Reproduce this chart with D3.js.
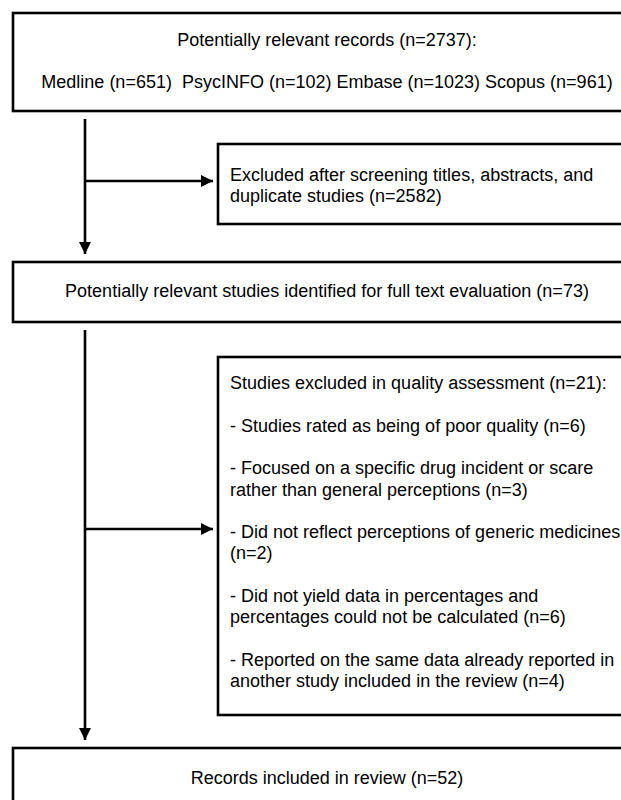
<!DOCTYPE html>
<html>
<head>
<meta charset="utf-8">
<script src="https://cdn.jsdelivr.net/npm/d3@7"></script>
<style>
  body { margin: 0; background: #fff; }
  svg text { font-family: "Liberation Sans", Arial, Helvetica, sans-serif; font-size: 18px; fill: #000; white-space: pre; }
</style>
</head>
<body>
<div id="chart"></div>
<script>
// flow steps (main column), one array of lines per box
var stepLines = [
    ["Potentially relevant records (n=2737):",
     "Medline (n=651)  PsycINFO (n=102) Embase (n=1023) Scopus (n=961)"],
    ["Potentially relevant studies identified for full text evaluation (n=73)"],
    ["Records included in review (n=52)"]
];

// exclusion boxes, "" = blank line
var exclusionLines = [
    ["Excluded after screening titles, abstracts, and",
     "duplicate studies (n=2582)"],
    ["Studies excluded in quality assessment (n=21):",
     "",
     "- Studies rated as being of poor quality (n=6)",
     "",
     "- Focused on a specific drug incident or scare",
     "rather than general perceptions (n=3)",
     "",
     "- Did not reflect perceptions of generic medicines",
     "(n=2)",
     "",
     "- Did not yield data in percentages and",
     "percentages could not be calculated (n=6)",
     "",
     "- Reported on the same data already reported in",
     "another study included in the review (n=4)"]
];

var width = 621, height = 800;

// layout (pixels)
var layout = {
    mainX: 13, mainRight: 641,
    exX: 218, exRight: 641,
    spineX: 85,
    steps: [
        { top: 13, bottom: 111, lineY: [40, 82] },
        { top: 262, bottom: 322, lineY: [291] },
        { top: 748, bottom: 812, lineY: [778] }
    ],
    exclusions: [
        { top: 144, bottom: 224, firstY: 175, arrowY: 181 },
        { top: 357, bottom: 715, firstY: 383, arrowY: 529 }
    ],
    lineHeight: 21.3,
    stroke: 2.6
};

var svg = d3.select("#chart").append("svg")
    .attr("width", width)
    .attr("height", height);

var defs = svg.append("defs");
defs.append("marker")
    .attr("id", "arrow")
    .attr("viewBox", "0 0 10 10")
    .attr("refX", 10)
    .attr("refY", 5)
    .attr("markerUnits", "userSpaceOnUse")
    .attr("markerWidth", 14)
    .attr("markerHeight", 12)
    .attr("orient", "auto")
  .append("path")
    .attr("d", "M0,0 L10,5 L0,10 Z")
    .attr("fill", "#000");

// main boxes
var steps = svg.append("g").attr("class", "steps")
    .selectAll("g")
    .data(stepLines)
    .enter().append("g");

steps.append("rect")
    .attr("x", layout.mainX)
    .attr("y", function(d, i) { return layout.steps[i].top; })
    .attr("width", layout.mainRight - layout.mainX)
    .attr("height", function(d, i) { return layout.steps[i].bottom - layout.steps[i].top; })
    .attr("fill", "none")
    .attr("stroke", "#000")
    .attr("stroke-width", layout.stroke);

steps.each(function(lines, i) {
    d3.select(this).selectAll("text")
        .data(lines)
        .enter().append("text")
        .attr("x", (layout.mainX + layout.mainRight) / 2)
        .attr("y", function(d, j) { return layout.steps[i].lineY[j]; })
        .attr("text-anchor", "middle")
        .attr("dominant-baseline", "central")
        .text(function(d) { return d; });
});

// exclusion boxes
var ex = svg.append("g").attr("class", "exclusions")
    .selectAll("g")
    .data(exclusionLines)
    .enter().append("g");

ex.append("rect")
    .attr("x", layout.exX)
    .attr("y", function(d, i) { return layout.exclusions[i].top; })
    .attr("width", layout.exRight - layout.exX)
    .attr("height", function(d, i) { return layout.exclusions[i].bottom - layout.exclusions[i].top; })
    .attr("fill", "none")
    .attr("stroke", "#000")
    .attr("stroke-width", layout.stroke);

ex.each(function(lines, i) {
    d3.select(this).selectAll("text")
        .data(lines)
        .enter().append("text")
        .attr("x", layout.exX + 12)
        .attr("y", function(d, j) { return layout.exclusions[i].firstY + j * layout.lineHeight; })
        .attr("dominant-baseline", "central")
        .text(function(d) { return d; });
});

// connectors: spine from each step to the next, side arrow to exclusion box
var arrows = svg.append("g").attr("class", "arrows");
for (var i = 0; i < stepLines.length - 1; i++) {
    var from = layout.steps[i], to = layout.steps[i + 1], exb = layout.exclusions[i];
    arrows.append("line")
        .attr("x1", layout.spineX).attr("y1", from.bottom + 8)
        .attr("x2", layout.spineX).attr("y2", to.top - 8)
        .attr("stroke", "#000")
        .attr("stroke-width", layout.stroke)
        .attr("marker-end", "url(#arrow)");
    arrows.append("line")
        .attr("x1", layout.spineX).attr("y1", exb.arrowY)
        .attr("x2", layout.exX - 5).attr("y2", exb.arrowY)
        .attr("stroke", "#000")
        .attr("stroke-width", layout.stroke)
        .attr("marker-end", "url(#arrow)");
}
</script>
</body>
</html>
